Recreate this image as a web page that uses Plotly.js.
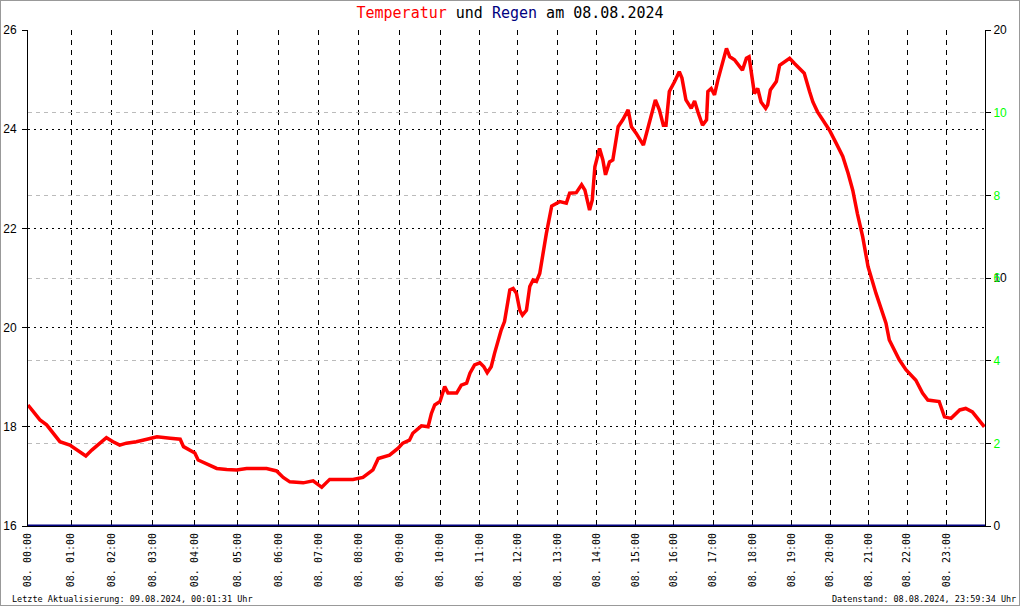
<!DOCTYPE html>
<html>
<head>
<meta charset="utf-8">
<script src="https://cdn.plot.ly/plotly-3.0.1.min.js"></script>
<style>
  html, body { margin: 0; padding: 0; background: #fff; }
  #frame { width: 1020px; height: 606px; box-sizing: border-box; border: 1px solid #999; overflow: hidden; }
  #chart { width: 1018px; height: 604px; }
</style>
</head>
<body>
<div id="frame"><div id="chart"></div></div>
<script>
// Sample index of the logger (about one sample per minute over the day)
const hourIdx = [0,65,126,188,251,315,377,437,498,559,620,680,737,797,856,914,972,1031,1090,1149,1207,1265,1323,1382];
const hourLabels = ["08. 00:00","08. 01:00","08. 02:00","08. 03:00","08. 04:00","08. 05:00","08. 06:00","08. 07:00",
  "08. 08:00","08. 09:00","08. 10:00","08. 11:00","08. 12:00","08. 13:00","08. 14:00","08. 15:00",
  "08. 16:00","08. 17:00","08. 18:00","08. 19:00","08. 20:00","08. 21:00","08. 22:00","08. 23:00"];

const tempIdx = [0,8,18,28,38,48,63,76,87,96,108,118,128,138,148,163,179,194,214,229,234,244,251,256,269,284,299,314,329,359,374,384,394,414,429,442,454,474,489,504,519,527,544,557,564,574,579,592,602,607,612,620,627,632,645,652,660,665,672,680,686,691,697,702,707,712,717,722,725,730,735,740,744,750,755,760,765,770,775,780,788,800,810,815,825,833,838,845,849,853,860,865,869,875,880,888,895,903,908,915,926,933,938,944,950,956,960,965,973,980,984,990,998,1003,1008,1015,1021,1023,1028,1033,1038,1046,1051,1056,1063,1075,1081,1085,1088,1093,1098,1103,1110,1113,1117,1126,1131,1138,1146,1153,1161,1168,1176,1181,1188,1196,1206,1216,1226,1234,1241,1248,1256,1264,1276,1291,1296,1311,1321,1336,1346,1354,1371,1379,1389,1402,1411,1421,1432,1439];
const tempVal = [18.44,18.30,18.14,18.04,17.87,17.70,17.63,17.50,17.41,17.53,17.67,17.78,17.70,17.63,17.67,17.70,17.75,17.80,17.77,17.75,17.60,17.53,17.47,17.33,17.25,17.16,17.14,17.13,17.16,17.16,17.11,16.98,16.89,16.87,16.91,16.78,16.94,16.94,16.94,16.98,17.13,17.36,17.43,17.57,17.67,17.73,17.87,18.02,18.00,18.27,18.44,18.51,18.81,18.68,18.68,18.84,18.88,19.08,19.25,19.29,19.21,19.09,19.21,19.48,19.75,19.95,20.12,20.56,20.76,20.79,20.69,20.35,20.25,20.35,20.83,20.96,20.93,21.09,21.50,21.90,22.45,22.54,22.51,22.71,22.72,22.88,22.77,22.37,22.57,23.24,23.61,23.38,23.08,23.34,23.38,24.05,24.19,24.39,24.05,23.92,23.68,24.02,24.32,24.59,24.39,24.08,24.08,24.76,24.96,25.16,25.03,24.59,24.42,24.57,24.35,24.08,24.19,24.76,24.82,24.69,24.99,25.36,25.63,25.46,25.40,25.19,25.43,25.46,25.13,24.72,24.82,24.55,24.42,24.49,24.79,24.96,25.29,25.36,25.43,25.33,25.23,25.13,24.76,24.55,24.35,24.19,23.98,23.72,23.45,23.11,22.77,22.30,21.83,21.23,20.69,20.09,19.75,19.35,19.15,18.94,18.68,18.54,18.51,18.20,18.17,18.34,18.37,18.30,18.10,18.00];

const rainIdx = hourIdx.concat([1440]);
const rainVal = [0,0,0,0,0,0,0,0,0,0,0,0,0,0,0,0,0,0,0,0,0,0,0,0,0];

const tempTicks = [16,18,20,22,24,26];
const rainTicks = [0,10,20];
const greenTicks = [2,4,6,8,10];

const titleText = '<span style="color:#ff0000">Temperatur</span> und <span style="color:#000080">Regen</span> am 08.08.2024';
const leftNote = 'Letzte Aktualisierung: 09.08.2024, 00:01:31 Uhr';
const rightNote = 'Datenstand: 08.08.2024, 23:59:34 Uhr';

const mono = 'DejaVu Sans Mono, monospace';
const sans = 'Liberation Sans, Arial, sans-serif';

const traces = [
  {x: rainIdx, y: rainVal, yaxis: 'y2', type: 'scatter', mode: 'lines',
   line: {color: '#000080', width: 3}, cliponaxis: false, hoverinfo: 'skip'},
  {x: tempIdx, y: tempVal, yaxis: 'y', type: 'scatter', mode: 'lines',
   line: {color: '#ff0000', width: 3.5}, hoverinfo: 'skip'}
];

const layout = {
  width: 1018, height: 604,
  margin: {l: 27, r: 34, t: 29, b: 79, pad: 0},
  paper_bgcolor: '#ffffff', plot_bgcolor: '#ffffff',
  showlegend: false,
  title: {text: titleText, font: {family: mono, size: 15, color: '#000'},
          x: 0.5, xanchor: 'center', xref: 'container', y: 0.980, yanchor: 'middle', yref: 'container'},
  xaxis: {
    range: [0, 1440], tickmode: 'array', tickvals: hourIdx, ticktext: hourLabels,
    tickangle: -90, tickfont: {family: mono, size: 10, color: '#000'},
    showgrid: true, gridcolor: '#000', gridwidth: 1, griddash: '5px,5px',
    showline: true, linecolor: '#000', linewidth: 1, ticks: '', zeroline: false,
    ticklabelstandoff: 2
  },
  yaxis: {
    range: [16, 26], tickmode: 'array', tickvals: tempTicks,
    tickfont: {family: sans, size: 12, color: '#000'},
    showgrid: true, gridcolor: '#000', gridwidth: 1, griddash: '2px,4px',
    showline: true, linecolor: '#000', linewidth: 1,
    ticks: 'outside', ticklen: 5, tickcolor: '#000', zeroline: false, ticklabelstandoff: 3
  },
  yaxis2: {
    range: [0, 20], tickmode: 'array', tickvals: rainTicks, overlaying: 'y', side: 'right', anchor: 'x',
    tickfont: {family: sans, size: 12, color: '#000'},
    showgrid: false, showline: true, linecolor: '#000', linewidth: 1,
    ticks: 'outside', ticklen: 5, tickcolor: '#000', zeroline: false
  },
  yaxis3: {
    range: [0, 12], tickmode: 'array', tickvals: greenTicks, overlaying: 'y', side: 'right', anchor: 'x',
    tickfont: {family: sans, size: 12, color: '#00ff00'},
    showgrid: true, gridcolor: '#bbbbbb', gridwidth: 1, griddash: '4px,4px',
    showline: false, ticks: 'outside', ticklen: 5, tickcolor: '#000', zeroline: false
  },
  annotations: [
    {text: leftNote, xref: 'paper', yref: 'paper', x: -0.019, y: -0.147, xanchor: 'left', yanchor: 'middle',
     showarrow: false, font: {family: mono, size: 8.5, color: '#000'}},
    {text: rightNote, xref: 'paper', yref: 'paper', x: 1.0345, y: -0.147, xanchor: 'right', yanchor: 'middle',
     showarrow: false, font: {family: mono, size: 8.5, color: '#000'}}
  ]
};

// invisible point so the green right-hand scale is drawn
traces.push({x: [0], y: [0], yaxis: 'y3', type: 'scatter', mode: 'markers', marker: {opacity: 0}, hoverinfo: 'skip'});

Plotly.newPlot('chart', traces, layout, {staticPlot: true, displayModeBar: false});
</script>
</body>
</html>
